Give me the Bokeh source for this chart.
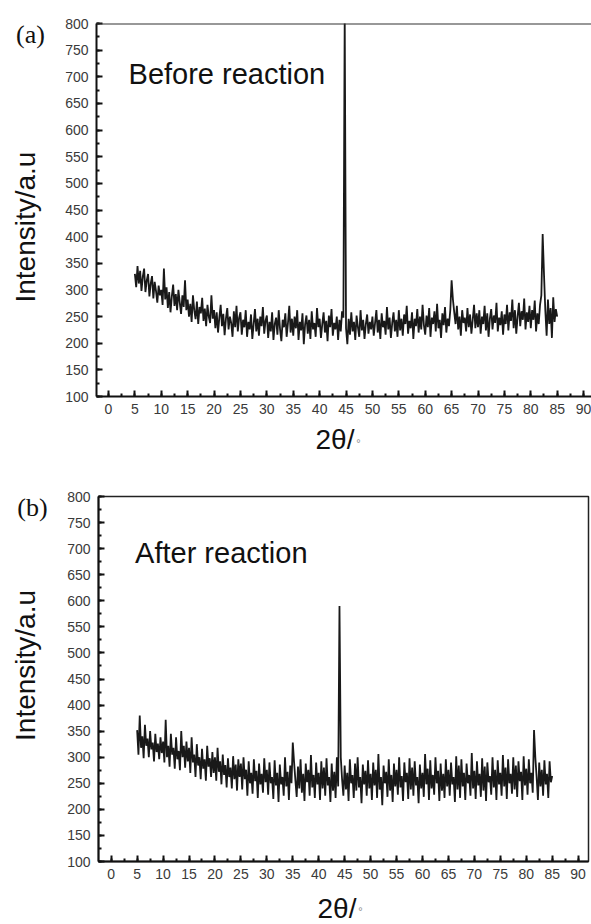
import math
from bokeh.plotting import figure
from bokeh.layouts import column, row
from bokeh.models import Range1d, SingleIntervalTicker, Label, Span, ColumnDataSource
from bokeh.embed import file_html
from bokeh.resources import INLINE

# ---------------- data ----------------
scan_start = 5.0      # first 2-theta of the scan, degrees
scan_step = 0.25      # scan step, degrees

# (a) Before reaction, 5.00 ... 85.00 deg
intensity_before = [
    330, 305, 345, 312, 336, 298, 325, 340, 296, 318, 330, 288, 312, 326, 284, 315, 298, 276, 308, 290,
    300, 272, 340, 282, 305, 266, 296, 258, 288, 310, 270, 292, 262, 300, 276, 255, 290, 268, 318, 262,
    282, 250, 274, 240, 290, 262, 245, 278, 236, 268, 256, 285, 242, 265, 232, 272, 250, 238, 290, 246,
    262, 228, 258, 220, 248, 272, 232, 255, 215, 246, 266, 226, 250, 238, 212, 260, 230, 270, 222, 248,
    258, 216, 244, 230, 262, 212, 240, 226, 254, 208, 236, 264, 222, 246, 214, 250, 232, 268, 218, 242,
    252, 210, 240, 222, 258, 206, 236, 248, 216, 262, 226, 204, 244, 230, 256, 212, 238, 270, 220, 246,
    214, 250, 228, 262, 206, 240, 224, 256, 198, 236, 252, 218, 244, 208, 260, 226, 238, 212, 266, 230,
    246, 210, 236, 258, 220, 242, 204, 252, 230, 264, 214, 238, 226, 250, 206, 244, 222, 260, 248, 820,
    228, 198, 246, 216, 258, 222, 240, 206, 252, 230, 212, 262, 224, 244, 208, 236, 254, 218, 240, 226,
    250, 214, 238, 262, 220, 244, 208, 256, 230, 242, 216, 268, 226, 248, 210, 238, 258, 222, 244, 212,
    262, 224, 246, 214, 254, 236, 270, 218, 242, 228, 258, 208, 246, 232, 264, 220, 250, 226, 272, 234,
    216, 252, 230, 266, 212, 248, 236, 260, 222, 274, 228, 244, 210, 256, 234, 268, 220, 246, 232, 262,
    318, 282, 258, 236, 270, 226, 250, 214, 262, 238, 248, 222, 266, 230, 254, 218, 244, 272, 228, 256,
    230, 262, 218, 250, 236, 270, 224, 256, 212, 246, 264, 226, 252, 238, 276, 222, 248, 234, 260, 216,
    254, 236, 272, 224, 258, 242, 282, 228, 262, 218, 250, 276, 232, 260, 244, 284, 226, 258, 240, 270,
    228, 262, 244, 280, 222, 256, 236, 272, 290, 405, 330, 262, 214, 282, 236, 266, 210, 286, 240, 264,
    250,
]

# (b) After reaction, 5.00 ... 85.00 deg
intensity_after = [
    352, 305, 380, 318, 340, 298, 362, 322, 336, 300, 350, 315, 328, 292, 345, 310, 326, 296, 338, 308,
    330, 290, 372, 300, 322, 282, 345, 305, 318, 278, 338, 296, 312, 275, 350, 300, 322, 280, 330, 292,
    318, 270, 338, 290, 305, 262, 325, 284, 300, 258, 316, 278, 296, 255, 322, 282, 298, 262, 310, 270,
    300, 255, 318, 272, 292, 248, 305, 266, 285, 242, 298, 262, 280, 240, 302, 258, 286, 236, 296, 262,
    288, 238, 300, 258, 276, 226, 292, 250, 270, 230, 296, 254, 274, 222, 288, 248, 268, 232, 298, 252,
    276, 228, 290, 250, 262, 220, 294, 246, 270, 214, 286, 248, 262, 226, 300, 244, 272, 218, 284, 250,
    328, 290, 256, 224, 282, 240, 296, 232, 268, 216, 288, 252, 276, 226, 304, 242, 266, 222, 290, 248,
    270, 218, 292, 240, 280, 226, 298, 246, 262, 214, 288, 236, 272, 222, 300, 244, 590, 300, 258, 226,
    284, 238, 270, 216, 296, 250, 266, 222, 288, 236, 300, 242, 262, 212, 286, 248, 274, 226, 294, 240,
    268, 218, 290, 246, 276, 222, 306, 238, 262, 208, 284, 250, 272, 224, 296, 236, 266, 214, 288, 244,
    276, 228, 300, 242, 264, 216, 290, 252, 270, 220, 298, 238, 280, 226, 292, 246, 262, 212, 286, 240,
    270, 224, 306, 248, 278, 218, 294, 240, 266, 228, 300, 250, 274, 216, 288, 236, 268, 222, 296, 244,
    276, 226, 290, 248, 262, 214, 302, 238, 284, 222, 296, 244, 270, 218, 288, 250, 266, 226, 308, 240,
    274, 220, 292, 246, 268, 224, 298, 236, 282, 216, 290, 252, 264, 228, 300, 242, 276, 218, 294, 248,
    270, 226, 304, 244, 280, 220, 296, 250, 268, 230, 300, 238, 284, 224, 292, 254, 272, 218, 302, 246,
    278, 228, 296, 250, 270, 232, 352, 300, 262, 218, 290, 244, 276, 226, 294, 248, 268, 222, 292, 252,
    264,
]

two_theta = [scan_start + scan_step * i for i in range(len(intensity_before))]

panel_tags = ["(a)", "(b)"]
sample_names = ["Before reaction", "After reaction"]
y_title = "Intensity/a.u"
x_title = "2θ/"
degree_mark = "°"

x_tick_step = 5
y_tick_step = 50
y_min, y_max = 100, 800

SANS = "Liberation Sans"
SERIF = "Liberation Serif"
INK = "#111111"


def style_axes(p):
    for ax in (p.xaxis[0], p.yaxis[0]):
        ax.axis_line_width = 2
        ax.axis_line_color = INK
        ax.major_tick_in = 6
        ax.major_tick_out = 0
        ax.minor_tick_in = 3
        ax.minor_tick_out = 0
        ax.major_tick_line_width = 2
        ax.minor_tick_line_width = 2
        ax.major_tick_line_color = INK
        ax.minor_tick_line_color = INK
        ax.major_label_text_font = SANS
        ax.major_label_text_font_size = "14px"
        ax.major_label_text_color = "#3a3a3a"
    p.xaxis[0].ticker = SingleIntervalTicker(interval=x_tick_step, num_minor_ticks=2)
    p.yaxis[0].ticker = SingleIntervalTicker(interval=y_tick_step, num_minor_ticks=2)
    p.xaxis[0].major_label_standoff = 7
    p.yaxis[0].major_label_standoff = 8


def make_panel(values, name, x_lo, x_hi, width, height, bl, br, bt, bb, name_xy, right_border):
    p = figure(width=width, height=height, output_backend="svg", toolbar_location=None,
               title=None,
               x_range=Range1d(x_lo, x_hi), y_range=Range1d(y_min, y_max),
               min_border_left=bl, min_border_right=br, min_border_top=bt, min_border_bottom=bb)
    p.xgrid.grid_line_color = None
    p.ygrid.grid_line_color = None
    p.background_fill_color = "white"
    p.border_fill_color = "white"
    if right_border:
        p.outline_line_color = "#222222"
        p.outline_line_width = 1.5
    else:
        p.outline_line_color = None
        p.add_layout(Span(location=y_max, dimension="width", line_color="#333333", line_width=2))
    style_axes(p)

    src = ColumnDataSource(dict(x=two_theta, y=values))
    p.line("x", "y", source=src, line_color="#000000", line_width=1.8, line_alpha=0.9)

    p.add_layout(Label(x=name_xy[0], y=name_xy[1], text=name, text_font=SANS,
                       text_font_size="29px", text_align="left", text_baseline="middle",
                       text_color=INK))
    return p


def make_strip(width, height, y_range=None):
    """Blank figure that only carries the outer texts."""
    s = figure(width=width, height=height, output_backend="svg", toolbar_location=None,
               title=None,
               x_range=Range1d(0, width),
               y_range=y_range if y_range is not None else Range1d(0, height),
               x_axis_type=None, y_axis_type=None,
               min_border_left=0, min_border_right=0, min_border_top=0, min_border_bottom=0)
    s.outline_line_color = None
    s.background_fill_color = "white"
    s.border_fill_color = "white"
    return s


def put(s, x, y, text, y_units="screen", **kw):
    s.add_layout(Label(x=x, y=y, x_units="screen", y_units=y_units, text=text,
                       text_baseline="middle", **kw))


def add_tag(s, x, y, text):
    put(s, x, y, text, y_units="data", text_font=SERIF, text_font_size="26px",
        text_align="center", text_color=INK)


def add_ytitle(s, x, y):
    put(s, x, y, y_title, y_units="data", text_font=SANS, text_font_size="28px",
        text_align="center", angle=math.pi / 2, text_color=INK)


def add_xtitle(s, x, y, dx, dy):
    put(s, x, y, x_title, text_font=SANS, text_font_size="28px",
        text_align="left", text_color=INK)
    put(s, dx, dy, degree_mark, text_font=SANS, text_font_size="11px",
        text_align="center", text_color="#888888")


STRIP_W = 60
FULL_W = 591

# ---- panel (a) ----
HA = 422
pa = make_panel(intensity_before, sample_names[0], -2.27, 91.5,
                FULL_W - STRIP_W, HA, 36, 0, 23, 26, name_xy=(3.8, 706), right_border=False)
# the strip's frame lines up with the panel's frame, so it uses the same intensity scale
sa = make_strip(STRIP_W, HA, Range1d(y_min, y_max))
add_tag(sa, 30, 779, panel_tags[0])
add_ytitle(sa, 25, 418)
XA = 46
xa = make_strip(FULL_W, XA)
add_xtitle(xa, 315, 29.5, 358, 26)

# ---- panel (b) ----
HB = 419
pb = make_panel(intensity_after, sample_names[1], -2.45, 92.0,
                FULL_W - STRIP_W, HB, 38, 3, 28, 26, name_xy=(4.6, 692.5), right_border=True)
sb = make_strip(STRIP_W, HB, Range1d(y_min, y_max))
add_tag(sb, 32, 778, panel_tags[1])
add_ytitle(sb, 25, 476)
XB = 37
xb = make_strip(FULL_W, XB)
add_xtitle(xb, 317, 16, 360, 14)

layout = column(row(sa, pa, spacing=0), xa, row(sb, pb, spacing=0), xb, spacing=0)

with open("out.html", "w") as f:
    f.write(file_html(layout, INLINE))
